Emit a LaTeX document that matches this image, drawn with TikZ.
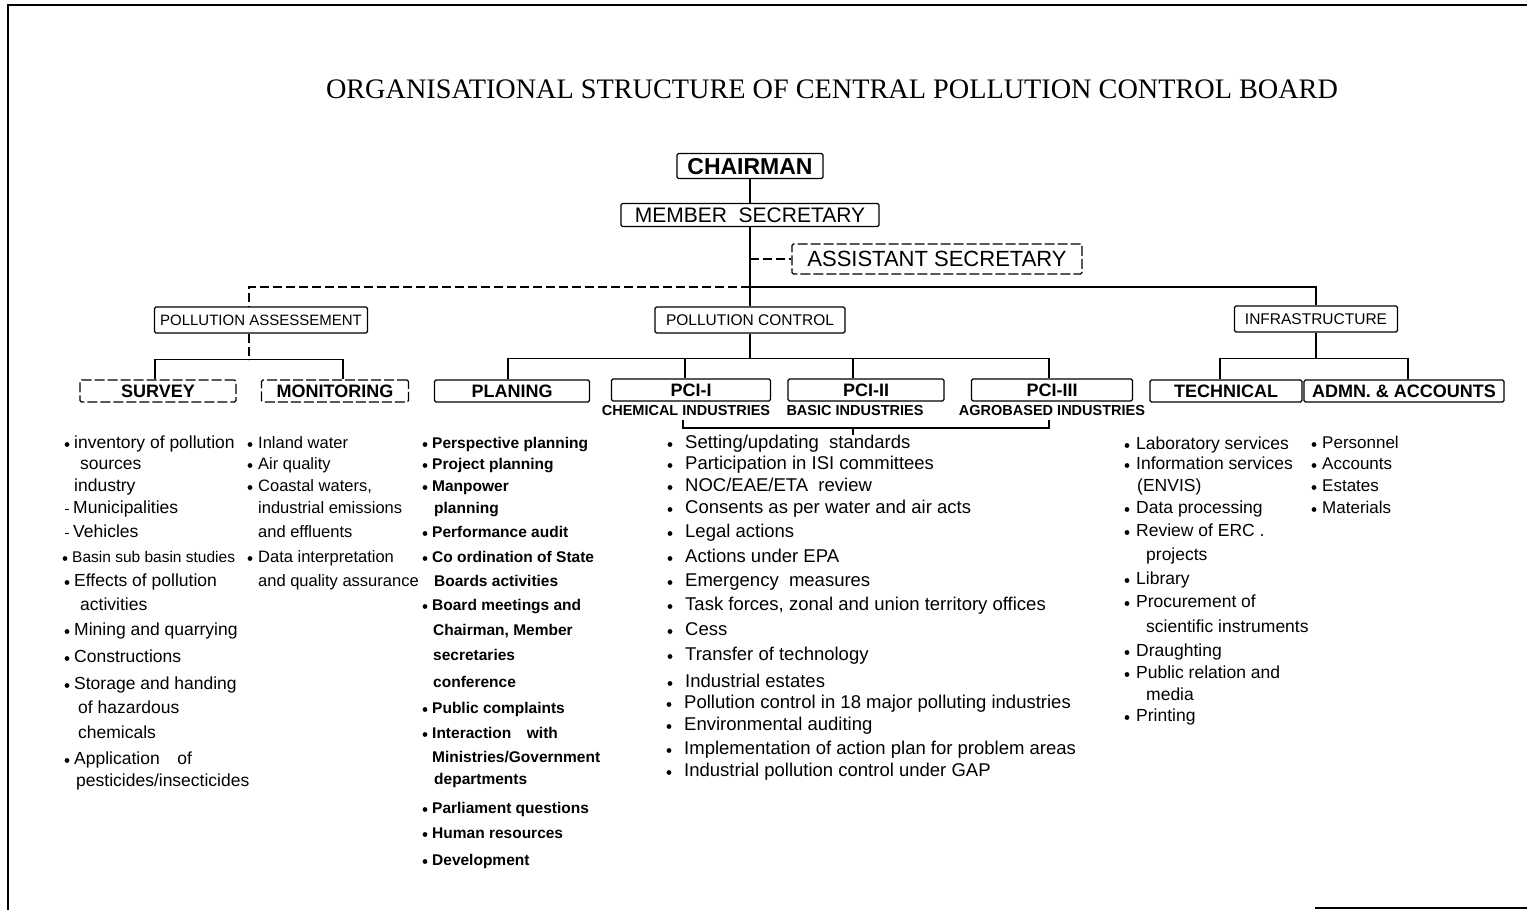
\documentclass[tikz,border=0pt]{standalone}
\usepackage{graphicx}
\usepackage{fontspec}
\setmainfont{Liberation Sans}
\newfontfamily\titlefont{Liberation Serif}
\newcommand\fsz[1]{\fontsize{#1}{#1}\selectfont}
\def\boff{7pt}
\newcommand\lB[5]{\node[#1] (#2) at (#3,#4) {#5}; \fill ([xshift=-\boff,yshift=3.5pt]#2.base west) circle (2.4pt);}
\newcommand\lT[5]{\node[#1] (#2) at (#3,#4) {#5};}
\newcommand\lD[5]{\node[#1] (#2) at (#3,#4) {#5}; \draw[line width=1pt] ([xshift=-8pt,yshift=4pt]#2.base west) -- ([xshift=-4pt,yshift=4pt]#2.base west);}
\tikzset{
 frame/.style={line width=2pt},
 conn/.style={line width=1.2pt},
 dconn/.style={line width=1.2pt, dash pattern=on 9pt off 4pt},
 box/.style={draw, line width=1.1pt, rounded corners=1.5pt, inner sep=0pt, text depth=0pt, anchor=center},
 dbox/.style={box, dash pattern=on 10pt off 3pt},
 hdr/.style={font=\fsz{15.5}},
 bhdr/.style={font=\bfseries\fsz{18}},
 ind/.style={font=\bfseries\fsz{14.5}, inner sep=0pt},
 lst/.style={anchor=base west, inner sep=0pt, yshift=-5pt},
 sv/.style={lst, font=\fsz{17.5}},
 mo/.style={lst, font=\fsz{16.5}},
 pl/.style={lst, font=\bfseries\fsz{15.5}},
 co/.style={lst, font=\fsz{18.5}},
 te/.style={lst, font=\fsz{17.5}},
 ad/.style={lst, font=\fsz{17}},
}
\begin{document}
\begin{tikzpicture}[x=1pt,y=-1pt]
\useasboundingbox (0,0) rectangle (1527,910);
% frame
\draw[frame] (8,910) -- (8,5) -- (1527,5);
\draw[frame] (1315,908) -- (1527,908);
% title
\node (title) at (832,89) {\resizebox{1012pt}{!}{\titlefont\fsz{24}ORGANISATIONAL STRUCTURE OF CENTRAL POLLUTION CONTROL BOARD}};
% boxes
\node[box, font=\bfseries\fsz{23}, minimum width=146pt, minimum height=25pt] (chair) at (750,166) {CHAIRMAN};
\node[box, font=\fsz{21}, minimum width=258pt, minimum height=23pt] (member) at (750,215) {MEMBER\ \ SECRETARY};
\node[dbox, font=\fsz{22}, minimum width=290pt, minimum height=30pt] (asst) at (937,259) {ASSISTANT SECRETARY};
\node[box, font=\fsz{15}, minimum width=213pt, minimum height=26pt] (pa) at (261,320) {POLLUTION ASSESSEMENT};
\node[box, hdr, minimum width=190pt, minimum height=26pt] (pc) at (750,320) {POLLUTION CONTROL};
\node[box, hdr, minimum width=163pt, minimum height=26pt] (infra) at (1316,319) {INFRASTRUCTURE};
\node[dbox, bhdr, minimum width=156pt, minimum height=22pt] (survey) at (158,391) {SURVEY};
\node[dbox, bhdr, minimum width=147pt, minimum height=22pt] (monitor) at (335,391) {MONITORING};
\node[box, bhdr, minimum width=155pt, minimum height=22pt] (plan) at (512,391) {PLANING};
\node[box, bhdr, minimum width=159pt, minimum height=22pt] (pci1) at (691,390) {PCI-I};
\node[box, bhdr, minimum width=156pt, minimum height=22pt] (pci2) at (866,390) {PCI-II};
\node[box, bhdr, minimum width=161pt, minimum height=22pt] (pci3) at (1052,390) {PCI-III};
\node[box, bhdr, minimum width=152pt, minimum height=22pt] (tech) at (1226,391) {TECHNICAL};
\node[box, bhdr, minimum width=200pt, minimum height=22pt] (admn) at (1404,391) {ADMN. \& ACCOUNTS};
% industry labels
\node[ind] (l1) at (686,411) {CHEMICAL INDUSTRIES};
\node[ind] (l2) at (855,411) {BASIC INDUSTRIES};
\node[ind] (l3) at (1052,411) {AGROBASED INDUSTRIES};
% connectors
\coordinate (hub) at (750,287);
\draw[conn] (chair.south) -- (member.north);
\draw[conn] (member.south) -- (pc.north);
\draw[dconn] (member.south |- asst.west) -- (asst.west);
\draw[dconn] (hub) -| ([xshift=-12pt]pa.north);
\draw[conn] (hub) -| (infra.north);
% pollution assessment branch
\draw[dconn] ([xshift=-12pt]pa.south) -- ++(0,26) coordinate (paj);
\draw[conn] ([xshift=-3pt]survey.north) |- (paj) -| ([xshift=8pt]monitor.north);
% pollution control branch
\draw[conn] (pc.south) -- ++(0,25) coordinate (pcj);
\draw[conn] ([xshift=-4pt]plan.north) |- (pcj) -| ([xshift=-3pt]pci3.north);
\path ([xshift=-6pt]pci1.north) coordinate (d1);
\path ([xshift=-13pt]pci2.north) coordinate (d2);
\draw[conn] (d1) -- (d1 |- pcj);
\draw[conn] (d2) -- (d2 |- pcj);
% infrastructure branch
\draw[conn] (infra.south) -- ++(0,26) coordinate (inj);
\draw[conn] ([xshift=-6pt]tech.north) |- (inj) -| ([xshift=4pt]admn.north);
% bracket under industries
\coordinate (bl) at (683,428);
\coordinate (br) at (1049,428);
\coordinate (bm) at (853,428);
\draw[conn] (bl) ++(0,-8) -- (bl) -- (br) -- ++(0,-8);
\draw[conn] (bm) -- ++(0,7);
% survey list
\def\boff{7pt}
\lB{sv}{s1}{74}{443}{inventory of pollution}
\lT{sv}{s2}{80}{464}{sources}
\lT{sv}{s3}{74}{486}{industry}
\lD{sv}{s4}{73}{508}{Municipalities}
\lD{sv}{s5}{73}{532}{Vehicles}
\lB{lst, font=\fsz{15.5}}{s6}{72}{557}{Basin sub basin studies}
\lB{sv}{s7}{74}{581}{Effects of pollution}
\lT{sv}{s8}{80}{605}{activities}
\lB{sv}{s9}{74}{630}{Mining and quarrying}
\lB{sv}{s10}{74}{657}{Constructions}
\lB{sv}{s11}{74}{684}{Storage and handing}
\lT{sv}{s12}{78}{708}{of hazardous}
\lT{sv}{s13}{78}{733}{chemicals}
\lB{sv}{s14}{74}{759}{Application\quad of}
\lT{sv}{s15}{76}{781}{pesticides/insecticides}
% monitoring list
\def\boff{8pt}
\lB{mo}{m1}{258}{443}{Inland water}
\lB{mo}{m2}{258}{464}{Air quality}
\lB{mo}{m3}{258}{486}{Coastal waters,}
\lT{mo}{m4}{258}{508}{industrial emissions}
\lT{mo}{m5}{258}{532}{and effluents}
\lB{mo}{m6}{258}{557}{Data interpretation}
\lT{mo}{m7}{258}{581}{and quality assurance}
% planing list
\def\boff{7pt}
\lB{pl}{p1}{432}{443}{Perspective planning}
\lB{pl}{p2}{432}{464}{Project planning}
\lB{pl}{p3}{432}{486}{Manpower}
\lT{pl}{p4}{434}{508}{planning}
\lB{pl}{p5}{432}{532}{Performance audit}
\lB{pl}{p6}{432}{557}{Co ordination of State}
\lT{pl}{p7}{434}{581}{Boards activities}
\lB{pl}{p8}{432}{605}{Board meetings and}
\lT{pl}{p9}{433}{630}{Chairman, Member}
\lT{pl}{p10}{433}{655}{secretaries}
\lT{pl}{p11}{433}{682}{conference}
\lB{pl}{p12}{432}{708}{Public complaints}
\lB{pl}{p13}{432}{733}{Interaction\quad with}
\lT{pl}{p14}{432}{757}{Ministries/Government}
\lT{pl}{p15}{434}{779}{departments}
\lB{pl}{p16}{432}{808}{Parliament questions}
\lB{pl}{p17}{432}{833}{Human resources}
\lB{pl}{p18}{432}{860}{Development}
% pollution control list
\def\boff{15pt}
\lB{co}{c1}{685}{443}{Setting/updating\ \ standards}
\lB{co}{c2}{685}{464}{Participation in ISI committees}
\lB{co}{c3}{685}{486}{NOC/EAE/ETA\ \ review}
\lB{co}{c4}{685}{508}{Consents as per water and air acts}
\lB{co}{c5}{685}{532}{Legal actions}
\lB{co}{c6}{685}{557}{Actions under EPA}
\lB{co}{c7}{685}{581}{Emergency\ \ measures}
\lB{co}{c8}{685}{605}{Task forces, zonal and union territory offices}
\lB{co}{c9}{685}{630}{Cess}
\lB{co}{c10}{685}{655}{Transfer of technology}
\lB{co}{c11}{685}{682}{Industrial estates}
\lB{co}{c12}{684}{703}{Pollution control in 18 major polluting industries}
\lB{co}{c13}{684}{725}{Environmental auditing}
\lB{co}{c14}{684}{749}{Implementation of action plan for problem areas}
\lB{co}{c15}{684}{771}{Industrial pollution control under GAP}
% technical list
\def\boff{9pt}
\lB{te}{t1}{1136}{444}{Laboratory services}
\lB{te}{t2}{1136}{464}{Information services}
\lT{te}{t3}{1137}{486}{(ENVIS)}
\lB{te}{t4}{1136}{508}{Data processing}
\lB{te}{t5}{1136}{531}{Review of ERC .}
\lT{te}{t6}{1146}{555}{projects}
\lB{te}{t7}{1136}{579}{Library}
\lB{te}{t8}{1136}{602}{Procurement of}
\lT{te}{t9}{1146}{627}{scientific instruments}
\lB{te}{t10}{1136}{651}{Draughting}
\lB{te}{t11}{1136}{673}{Public relation and}
\lT{te}{t12}{1146}{695}{media}
\lB{te}{t13}{1136}{716}{Printing}
% admn list
\def\boff{8pt}
\lB{ad}{a1}{1322}{443}{Personnel}
\lB{ad}{a2}{1322}{464}{Accounts}
\lB{ad}{a3}{1322}{486}{Estates}
\lB{ad}{a4}{1322}{508}{Materials}
\end{tikzpicture}
\end{document}
